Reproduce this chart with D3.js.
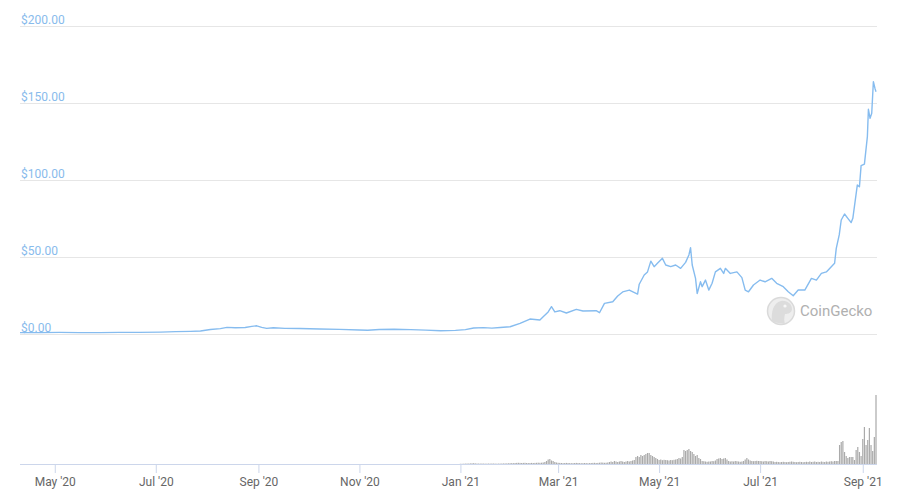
<!DOCTYPE html>
<html><head><meta charset="utf-8">
<script src="https://cdn.jsdelivr.net/npm/d3@7"></script>
<style>
html,body{margin:0;padding:0;background:#fff;}
svg{display:block;font-family:Roboto,"Helvetica Neue",Arial,sans-serif;}
</style></head><body>
<svg id="chart" width="904" height="490"></svg>
<script>
// ---- data ----
const dateDomain = ["2020-04-10", "2021-09-09"];
const priceTicks = [0, 50, 100, 150, 200];
const priceDates = [
"2020-04-10","2020-04-22","2020-05-04","2020-05-16","2020-05-28","2020-06-09","2020-06-21","2020-07-04","2020-07-13","2020-07-22",
"2020-07-28","2020-08-03","2020-08-09","2020-08-13","2020-08-18","2020-08-24","2020-08-28","2020-08-31","2020-09-03","2020-09-06",
"2020-09-10","2020-09-17","2020-09-26","2020-10-08","2020-10-20","2020-11-01","2020-11-06","2020-11-13","2020-11-22","2020-12-02",
"2020-12-11","2020-12-20","2020-12-29",
"2021-01-04","2021-01-09","2021-01-15","2021-01-20","2021-01-25","2021-01-31","2021-02-06","2021-02-12","2021-02-18","2021-02-20",
"2021-02-23","2021-02-25","2021-02-27","2021-03-02","2021-03-06","2021-03-12","2021-03-16","2021-03-24","2021-03-26","2021-03-29",
"2021-04-03","2021-04-06","2021-04-09","2021-04-13","2021-04-18","2021-04-19","2021-04-22","2021-04-24","2021-04-26","2021-04-28",
"2021-04-30","2021-05-03","2021-05-05","2021-05-08","2021-05-11","2021-05-14","2021-05-17","2021-05-19","2021-05-20","2021-05-21",
"2021-05-23","2021-05-24","2021-05-26","2021-05-27","2021-05-29","2021-05-31","2021-06-02","2021-06-04","2021-06-07","2021-06-09",
"2021-06-10","2021-06-13","2021-06-17","2021-06-20","2021-06-22","2021-06-24","2021-06-27","2021-07-01","2021-07-04","2021-07-08",
"2021-07-11","2021-07-15","2021-07-18","2021-07-21","2021-07-24","2021-07-28","2021-08-01","2021-08-04","2021-08-07","2021-08-10",
"2021-08-13","2021-08-15","2021-08-16","2021-08-17T19:00Z","2021-08-19","2021-08-21","2021-08-23","2021-08-25","2021-08-26","2021-08-28T17:00Z",
"2021-08-30","2021-08-31","2021-09-02","2021-09-03T19:00Z","2021-09-04T10:00Z","2021-09-05T10:00Z","2021-09-06T10:00Z","2021-09-07T10:00Z","2021-09-08T10:00Z","2021-09-09"
];
const priceValues = [
0.6,0.6,0.7,0.6,0.6,0.7,0.7,0.9,1.2,1.4,
1.6,2.6,3.2,4.0,3.7,3.9,4.6,5.0,4.0,3.3,
3.7,3.3,3.2,2.9,2.7,2.3,2.1,2.6,2.8,2.5,
2.2,1.8,2.0,
2.5,3.6,3.8,3.5,3.9,4.4,6.6,9.4,8.8,10.9,
14,17.4,14,14.8,13.3,15.7,14.6,14.8,13.5,19.6,
20.6,24.4,27,28.2,25.6,32,38,40,47,43.4,
45.6,48.8,44.5,43.4,44.5,42.3,46.2,51,55.7,44.5,
35.8,26,33.6,30.4,34.7,28.2,32.6,40,42.3,39,
42.3,39,40,36.3,28.2,27.1,31.5,34.7,33.6,35.8,
32.6,30.4,27.1,24.5,28.2,28.2,35.8,34.7,39,40,
43.4,45.6,55.3,64,73.7,77.6,74.8,72,74.8,96.4,
95.3,109,110,127.8,145.6,139.7,143,163.5,159,157
];
// daily volume (USD millions) from volumeStart onward
const volumeStart = "2021-01-01";
const volumeValues = [
// Jan
20,25,30,40,50,45,60,70,80,60,50,45,40,50,40,35,40,45,40,50,45,40,35,40,45,50,55,60,60,70,80,
// Feb
90,80,100,110,120,110,100,110,120,100,90,100,110,100,110,120,130,120,130,150,200,300,450,500,350,300,200,150,
// Mar
120,110,100,90,100,110,100,90,80,90,100,110,100,90,80,90,100,90,80,90,100,110,120,100,110,130,150,140,120,130,150,
// Apr
200,250,200,300,250,200,250,300,250,200,250,300,250,300,350,400,700,800,700,900,800,900,1000,1100,1100,900,800,700,600,500,
// May
400,450,380,420,400,380,350,400,380,420,450,500,600,550,700,1400,1300,1400,1500,1300,1200,1000,800,900,600,500,300,280,250,220,250,
// Jun
250,300,280,350,500,550,600,500,550,600,450,300,250,280,250,300,280,250,220,250,300,450,600,450,350,300,280,300,320,300,
// Jul
300,280,250,300,280,250,300,280,250,200,220,200,180,200,220,200,180,200,220,250,220,200,180,200,220,200,180,200,220,200,250,
// Aug
200,220,250,200,220,200,250,220,200,250,220,250,280,250,300,300,300,1900,2200,2300,1200,800,600,700,700,700,400,1400,1700,1200,800,
// Sep
2500,3700,1900,2400,3600,1900,1300,2700,6900
];
const volumeMax = 8400;

// ---- drawing ----
const svg = d3.select("#chart");
const parse = d3.isoParse;
const x = d3.scaleUtc().domain(dateDomain.map(parse)).range([20, 876]);
const y = d3.scaleLinear().domain([0, 200]).range([333.5, 25.5]);
const yv = d3.scaleLinear().domain([0, volumeMax]).range([464, 380]);
const gridLeft = 20, gridRight = 877;

// gridlines
svg.append("g").selectAll("line").data(priceTicks).join("line")
  .attr("x1", gridLeft).attr("x2", gridRight)
  .attr("y1", d => Math.round(y(d)) + 0.5).attr("y2", d => Math.round(y(d)) + 0.5)
  .attr("stroke", "#e6e6e6").attr("stroke-width", 1);

// y labels
svg.append("g").selectAll("text").data(priceTicks).join("text")
  .attr("x", 21).attr("y", d => Math.round(y(d)) - 2)
  .attr("font-size", 12).attr("fill", "#88bbec")
  .text(d => "$" + d3.format(",.2f")(d));

// watermark
const wm = svg.append("g").attr("opacity", 0.9);
wm.append("circle").attr("cx", 781).attr("cy", 311).attr("r", 13.5)
  .attr("fill", "#ededed").attr("stroke", "#d6d6d6").attr("stroke-width", 1.5);
wm.append("path").attr("d", "M772,322 C771,312 773,303 781,301 C787,300 792,304 792,309 C792,313 788,314 785,314 C784,318 784,321 785,324 Z")
  .attr("fill", "#d9d9d9");
wm.append("circle").attr("cx", 785).attr("cy", 306).attr("r", 1.6).attr("fill", "#f7f7f7");
wm.append("text").attr("x", 800).attr("y", 316).attr("font-size", 15)
  .attr("fill", "#a8a8a8").text("CoinGecko");

// price line
const priceData = priceDates.map((d, i) => ({ date: parse(d), value: priceValues[i] }));
svg.append("path").datum(priceData)
  .attr("fill", "none").attr("stroke", "#86bcef").attr("stroke-width", 1.4)
  .attr("stroke-linejoin", "round")
  .attr("d", d3.line().x(d => x(d.date)).y(d => y(d.value)));

// volume bars
const v0 = parse(volumeStart);
const volData = volumeValues.map((v, i) => ({ date: d3.utcDay.offset(v0, i), value: v }));
svg.append("g").selectAll("rect").data(volData).join("rect")
  .attr("x", d => x(d.date) - 0.6).attr("width", 1.2)
  .attr("y", d => yv(d.value)).attr("height", d => yv(0) - yv(d.value))
  .attr("fill", "#aaaaaa");

// x axis
const xAxis = d3.axisBottom(x)
  .tickValues(d3.utcMonth.every(2).range(x.domain()[0], x.domain()[1]))
  .tickFormat(d3.utcFormat("%b '%y"))
  .tickSize(9).tickPadding(4).tickSizeOuter(0);
const gx = svg.append("g").attr("transform", "translate(0,464)").call(xAxis);
gx.select(".domain").attr("d", `M${gridLeft},0.5H${gridRight}`).attr("stroke", "#ccd6eb");
gx.selectAll(".tick line").attr("stroke", "#ccd6eb");
gx.selectAll(".tick text").attr("font-size", 12).attr("fill", "#666")
  .attr("font-family", 'Roboto,"Helvetica Neue",Arial,sans-serif');
</script>
</body></html>
